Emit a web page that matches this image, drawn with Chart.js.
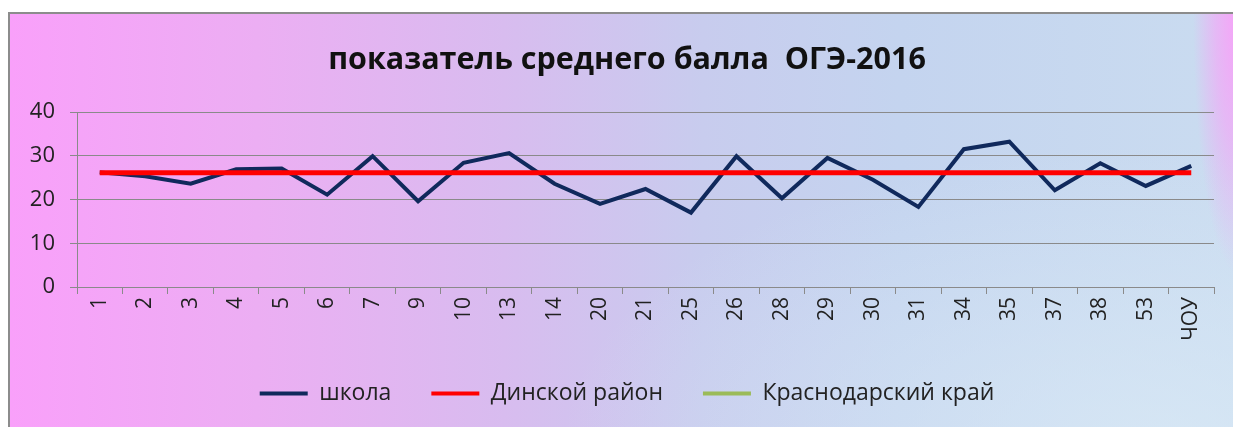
<!DOCTYPE html>
<html>
<head>
<meta charset="utf-8">
<script src="https://cdn.jsdelivr.net/npm/chart.js@4"></script>
<style>
  html, body { margin: 0; padding: 0; background: #fff; overflow: hidden; }
  #frame {
    position: absolute; left: 8px; top: 12px; width: 1240px; height: 430px;
    box-sizing: border-box; border: 2px solid #8c8c8c;
    background:
      radial-gradient(ellipse 45px 260px at 1228px 0px, rgba(247,162,248,1) 0%, rgba(247,162,248,0.6) 50%, rgba(247,162,248,0) 100%),
      radial-gradient(ellipse 600px 300px at 1150px 430px, rgba(218,234,246,0.75) 0%, rgba(218,234,246,0) 100%),
      linear-gradient(to right, #f9a0fa 0%, #ecaef3 20%, #d8bcef 40%, #c8ccee 56%, #c4d4ef 72%, #cadcf0 100%);
  }
  #wrap { position: absolute; left: 0; top: 0; width: 1233px; height: 427px; }
</style>
</head>
<body>
<div id="frame"></div>
<div id="wrap"><canvas id="chart"></canvas></div>
<script>
"use strict";

// ── Data ──────────────────────────────────────────────────────────────────────

const categories = ["1","2","3","4","5","6","7","9","10","13","14","20","21","25","26","28","29","30","31","34","35","37","38","53","ЧОУ"];

const schoolScores = [26.2, 25.3, 23.6, 26.9, 27.1, 21.1, 29.9, 19.6, 28.4, 30.6, 23.6, 19.0, 22.4,
                      17.0, 29.9, 20.3, 29.5, 24.5, 18.3, 31.5, 33.2, 22.1, 28.3, 23.1, 27.7];

const districtScores = [26.1, 26.1, 26.1, 26.1, 26.1, 26.1, 26.1, 26.1, 26.1, 26.1, 26.1, 26.1, 26.1,
                        26.1, 26.1, 26.1, 26.1, 26.1, 26.1, 26.1, 26.1, 26.1, 26.1, 26.1, 26.1];

const regionScores = [];

const yTicks = [0, 10, 20, 30, 40];

const TITLE = "показатель среднего балла  ОГЭ-2016";
const FONT = "'Open Sans', 'Noto Sans', sans-serif";
const TEXT = "#222";
const GRID = "#8a8a8a";

// y tick labels are clipped to the scale box; widen that box after layout
const unclipY = {
  id: "unclipY",
  afterLayout(chart) { chart.scales.y.left = 0; },
};

// ── Chart ─────────────────────────────────────────────────────────────────────

new Chart(document.getElementById("chart").getContext("2d"), {
  type: "line",
  data: {
    labels: categories,
    datasets: [
      {
        label: "школа",
        data: schoolScores,
        borderColor: "#10295c",
        backgroundColor: "#10295c",
        borderWidth: 4,
        pointRadius: 0,
        tension: 0,
        order: 1,
      },
      {
        label: "Динской район",
        data: districtScores,
        borderColor: "#ff0000",
        backgroundColor: "#ff0000",
        borderWidth: 5,
        pointRadius: 0,
        tension: 0,
        order: 0,
      },
      {
        label: "Краснодарский край",
        data: regionScores,
        borderColor: "#9bbb59",
        backgroundColor: "#9bbb59",
        borderWidth: 4,
        pointRadius: 0,
        order: 2,
      },
    ],
  },
  plugins: [unclipY],
  options: {
    responsive: true,
    maintainAspectRatio: false,
    animation: false,
    events: [],
    // left padding re-centres title and legend; y axis still ends at x=77
    layout: { padding: { left: 40, right: 19, top: 0, bottom: 12 } },
    scales: {
      x: {
        offset: true,
        grid: { display: true, drawOnChartArea: false, offset: true, color: GRID, tickLength: 7 },
        border: { display: false },
        ticks: {
          autoSkip: false, maxRotation: 90, minRotation: 90, padding: 3,
          color: TEXT, font: { family: FONT, size: 21 },
        },
        afterFit: (s) => { s.height = 55; },
      },
      y: {
        min: 0,
        max: 40,
        afterBuildTicks: (s) => { s.ticks = yTicks.map((v) => ({ value: v })); },
        grid: { color: GRID, lineWidth: 1, tickLength: 7 },
        border: { display: true, color: GRID, width: 1 },
        ticks: { padding: 15, color: TEXT, font: { family: FONT, size: 22 } },
        afterFit: (s) => { s.width = 37; },
      },
    },
    plugins: {
      title: {
        display: true,
        text: TITLE,
        color: "#111",
        font: { family: FONT, size: 30.5, weight: "bold", lineHeight: 1.2 },
        padding: { top: 42, bottom: 33.4 },
      },
      legend: {
        position: "bottom",
        labels: {
          boxWidth: 48,
          boxHeight: 4,
          padding: 40,
          color: TEXT,
          font: { family: FONT, size: 23 },
          sort: (a, b) => a.datasetIndex - b.datasetIndex,
          generateLabels: (chart) =>
            Chart.defaults.plugins.legend.labels.generateLabels(chart).map((l) => ({ ...l, lineWidth: 0 })),
        },
      },
      tooltip: { enabled: false },
    },
  },
});
</script>
</body>
</html>
